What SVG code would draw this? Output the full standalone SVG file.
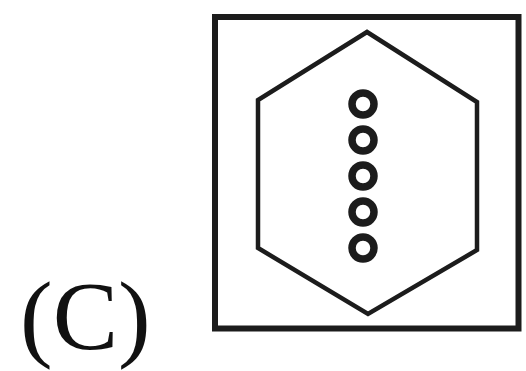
<svg xmlns="http://www.w3.org/2000/svg" width="526" height="371" viewBox="0 0 526 371">
<style>
.ln{fill:none;stroke:#1c1c1c;stroke-linejoin:miter}
.dot{fill:#fff;stroke:#1c1c1c;stroke-width:7.5}
.lbl{font-family:"Liberation Serif","Times New Roman",serif;font-size:98px;fill:#111}
</style>
<rect width="526" height="371" fill="#fff"/>
<g id="label"><text class="lbl" x="20" y="349">(C)</text></g>
<g id="frame"><rect class="ln" x="215" y="17" width="303.5" height="311.5" stroke-width="6"/></g>
<g id="hexagon"><polygon class="ln" stroke-width="4.5" points="367,32 477,102 477,250 368,314 258,248 258,100"/></g>
<g id="dots">
<circle class="dot" cx="363" cy="104" r="11"/>
<circle class="dot" cx="363" cy="140" r="11"/>
<circle class="dot" cx="363" cy="176" r="11"/>
<circle class="dot" cx="363" cy="212" r="11"/>
<circle class="dot" cx="363" cy="248" r="11"/>
</g>
</svg>
